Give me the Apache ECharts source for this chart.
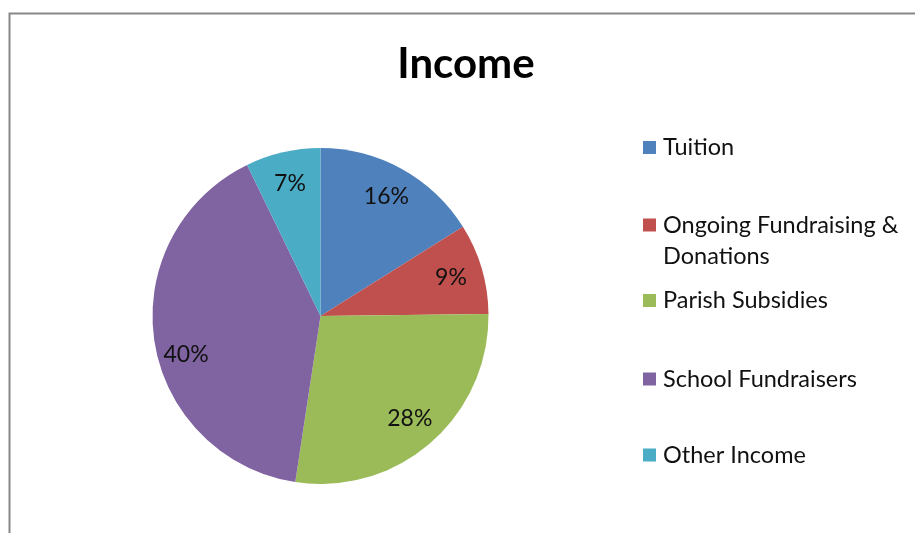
<!DOCTYPE html>
<html>
<head>
<meta charset="utf-8">
<script src="https://cdn.jsdelivr.net/npm/echarts@6/dist/echarts.min.js"></script>
<style>
html,body{margin:0;padding:0;background:#fff;}
#chart{width:915px;height:533px;}
</style>
</head>
<body>
<div id="chart"></div>
<script>
const titleText = 'Income';
const categories = ['Tuition', 'Ongoing Fundraising & Donations', 'Parish Subsidies', 'School Fundraisers', 'Other Income'];
const values = [16.1, 8.7, 27.6, 40.4, 7.2];
const colors = ['#4F81BD', '#C0504D', '#9BBB59', '#8064A2', '#4BACC6'];

const FONT = 'Lato';
const chart = echarts.init(document.getElementById('chart'));

const data = categories.map((n, i) => ({ name: n, value: values[i] }));
const legendCenters = [147.5, 225, 300.5, 379, 455];
const LH = 31;

const legends = categories.map((n, i) => {
  const twoLine = n.indexOf('&') >= 0;
  return {
    orient: 'vertical',
    left: 643,
    top: twoLine ? legendCenters[i] - LH * 1.5 : legendCenters[i] - LH / 2,
    padding: 0,
    icon: 'rect',
    itemWidth: 13,
    itemHeight: 13,
    selectedMode: false,
    data: [n],
    formatter: name => twoLine ? '\n' + name.replace(' Donations', '\nDonations') : name,
    textStyle: {
      fontFamily: FONT,
      fontSize: 23.5,
      color: '#111',
      lineHeight: LH,
      padding: [0, 0, 0, 2]
    }
  };
});

chart.setOption({
  animation: false,
  color: colors,
  title: {
    text: titleText,
    left: 461,
    textAlign: 'center',
    top: 38,
    textStyle: { fontFamily: FONT, fontWeight: 'bold', fontSize: 42, color: '#000' }
  },
  graphic: [{
    type: 'rect',
    shape: { x: 9.5, y: 13.5, width: 1000, height: 1000 },
    style: { fill: 'none', stroke: '#878787', lineWidth: 2 },
    silent: true
  }],
  legend: legends,
  series: [{
    type: 'pie',
    center: [320.5, 316],
    radius: [0, 168],
    startAngle: 90,
    clockwise: true,
    data: data,
    label: { show: false },
    labelLine: { show: false },
    itemStyle: { borderWidth: 0 },
    emphasis: { disabled: true }
  }, {
    type: 'pie',
    center: [320.5, 316],
    radius: [0, 266],
    startAngle: 90,
    clockwise: true,
    silent: true,
    data: data,
    itemStyle: { color: 'rgba(0,0,0,0)', borderWidth: 0 },
    label: {
      show: true,
      position: 'inside',
      formatter: p => Math.round(p.percent) + '%',
      fontFamily: FONT,
      fontSize: 23,
      color: '#111'
    },
    labelLayout: p => (p.dataIndex === 3 ? { dy: 18 } : {}),
    labelLine: { show: false },
    emphasis: { disabled: true }
  }]
});
</script>
</body>
</html>
